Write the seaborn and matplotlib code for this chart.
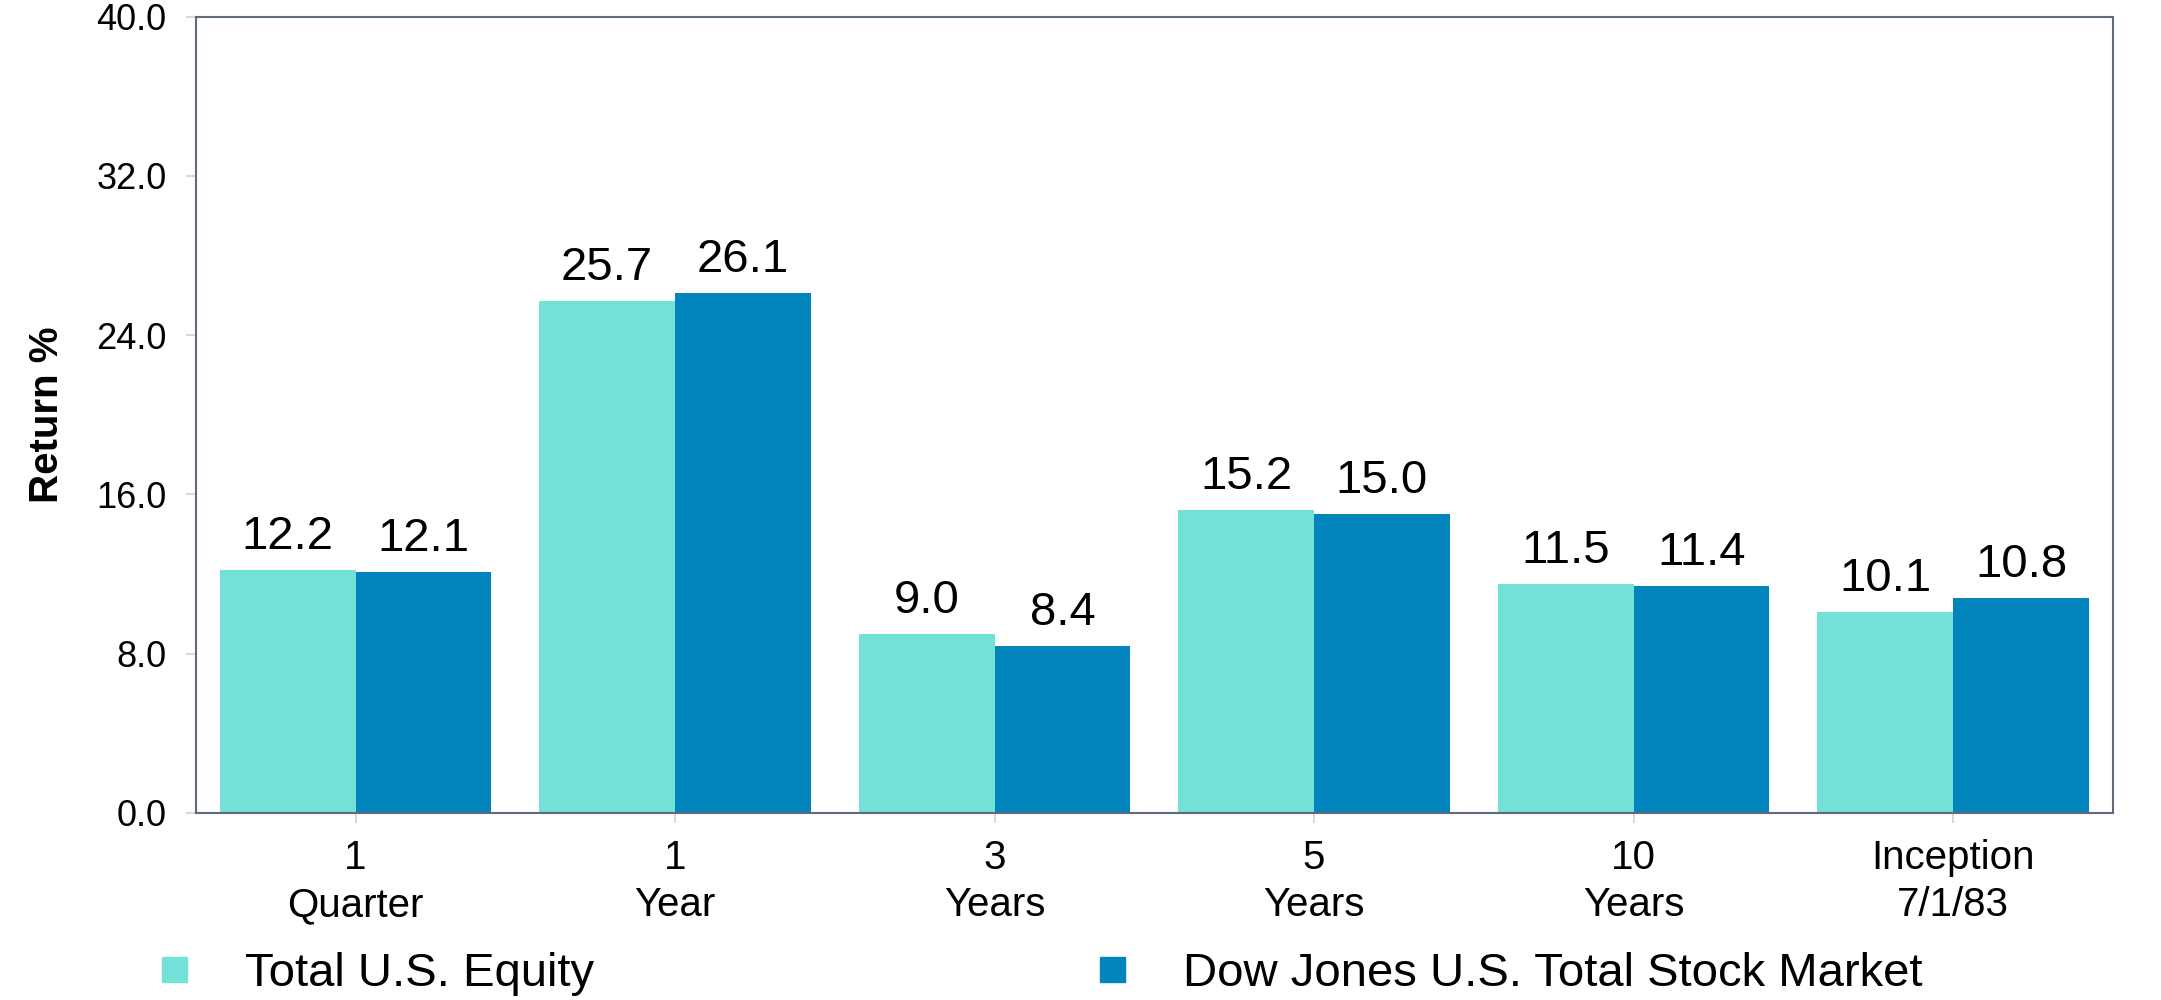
import matplotlib
matplotlib.use("Agg")
import matplotlib.pyplot as plt
import seaborn as sns
import pandas as pd
from matplotlib.lines import Line2D

# data
periods = ["1\nQuarter", "1\nYear", "3\nYears", "5\nYears", "10\nYears", "Inception\n7/1/83"]
total_us_equity = [12.2, 25.7, 9.0, 15.2, 11.5, 10.1]
dow_jones_total = [12.1, 26.1, 8.4, 15.0, 11.4, 10.8]
series_names = ["Total U.S. Equity", "Dow Jones U.S. Total Stock Market"]
colors = ["#74E1D9", "#0284BD"]

df = pd.DataFrame({
    "period": periods * 2,
    "value": total_us_equity + dow_jones_total,
    "series": [series_names[0]] * len(periods) + [series_names[1]] * len(periods),
})

sns.set_style("white")
plt.rcParams["font.family"] = ["Liberation Sans", "DejaVu Sans"]
plt.rcParams["text.color"] = "black"
plt.rcParams["xtick.color"] = "black"
plt.rcParams["ytick.color"] = "black"
plt.rcParams["axes.labelcolor"] = "black"

fig = plt.figure(figsize=(21.61, 10), dpi=100)
ax = fig.add_axes([0.0906, 0.187, 0.8871, 0.7965])

sns.barplot(data=df, x="period", y="value", hue="series", palette=colors,
            width=0.85, saturation=1, ax=ax, legend=False, linewidth=0)

for cont in ax.containers:
    ax.bar_label(cont, fmt="%.1f", padding=8, fontsize=34, color="black")

ax.set_xlim(-0.5, 5.5)
ax.set_ylim(0, 40)
ax.set_yticks([0, 8, 16, 24, 32, 40])
ax.set_yticklabels([f"{v:.1f}" for v in [0, 8, 16, 24, 32, 40]])
ax.set_xlabel("")
ax.set_ylabel("Return %", fontsize=29, fontweight="bold", labelpad=22)

for s in ax.spines.values():
    s.set_color("#5F6B78")
    s.set_linewidth(1.5)

ax.tick_params(axis="y", which="both", left=True, length=7, width=1.5,
               color="#D9D9D9", labelcolor="black", labelsize=26, pad=14)
ax.tick_params(axis="x", which="both", bottom=True, length=7, width=1.5,
               color="#D9D9D9", labelcolor="black", labelsize=29, pad=12)
for lbl in ax.get_xticklabels():
    lbl.set_linespacing(1.3)

# legend, one entry per column
h1 = Line2D([], [], marker="s", linestyle="none", markersize=18,
            markerfacecolor=colors[0], markeredgecolor=colors[0])
h2 = Line2D([], [], marker="s", linestyle="none", markersize=18,
            markerfacecolor=colors[1], markeredgecolor=colors[1])
fig.legend([h1], [series_names[0]], loc="center left", bbox_to_anchor=(0.050, 0.026),
           frameon=False, fontsize=34, handletextpad=0.5, borderaxespad=0)
fig.legend([h2], [series_names[1]], loc="center left", bbox_to_anchor=(0.484, 0.026),
           frameon=False, fontsize=34, handletextpad=0.5, borderaxespad=0)

fig.savefig("out.png", dpi=100)
